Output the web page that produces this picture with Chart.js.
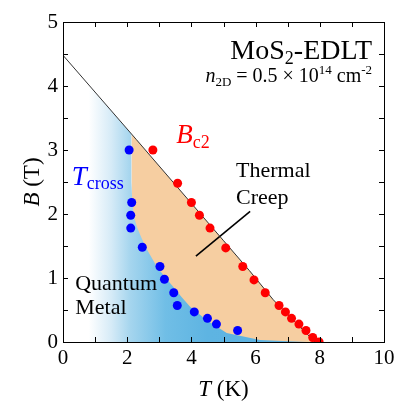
<!DOCTYPE html>
<html>
<head>
<meta charset="utf-8">
<script src="https://cdn.jsdelivr.net/npm/chart.js@4.4.1/dist/chart.umd.min.js"></script>
<style>
    html, body { margin: 0; padding: 0; background: #fff; }
    #wrap { width: 398px; height: 401px; }
</style>
</head>
<body>
<div id="wrap"><canvas id="phaseChart" width="398" height="401"></canvas></div>
<script>
// ==================== Data ====================
// Bc2 points (red)
const bc2T = [2.8, 3.57, 4.0, 4.25, 4.58, 5.07, 5.6, 5.95, 6.3, 6.73, 6.93, 7.12, 7.35, 7.57, 7.78, 7.98];
const bc2B = [3.0, 2.48, 2.18, 1.98, 1.78, 1.47, 1.18, 0.97, 0.77, 0.57, 0.47, 0.37, 0.28, 0.18, 0.07, 0.0];

// Tcross points (blue)
const crossT = [2.06, 2.14, 2.11, 2.11, 2.47, 3.02, 3.16, 3.45, 3.56, 4.09, 4.5, 4.78, 5.44];
const crossB = [3.0, 2.18, 1.98, 1.78, 1.48, 1.18, 0.98, 0.77, 0.57, 0.47, 0.37, 0.28, 0.18];

// thin black guide line (upper Bc2 line)
const lineT = [0, 2.29, 3.64, 4.99, 5.8, 6.55, 7.2, 7.85];
const lineB = [4.48, 3.16, 2.375, 1.59, 1.12, 0.66, 0.33, 0];

// thermal creep region (orange), top edge
const creepT = [2.13, 2.29, 3.64, 4.99, 5.8, 6.55, 7.2, 7.85];
const creepB = [3.25, 3.16, 2.375, 1.59, 1.12, 0.66, 0.33, 0];

// quantum metal region (blue), top edge
const metalT = [0, 2.13, 2.13, 2.16, 2.2, 2.3, 2.45, 2.62, 2.92, 3.2, 3.44, 3.7, 3.96, 4.48, 5.1, 6.14, 7.0, 7.6];
const metalB = [4.48, 3.25, 2.5, 2.2, 1.98, 1.8, 1.62, 1.44, 1.18, 1.0, 0.86, 0.7, 0.55, 0.34, 0.14, 0.03, 0.01, 0];

// pointer from "Thermal Creep" label
const pointerT = [4.14, 5.83];
const pointerB = [1.34, 2.04];

// axes
const xTicks = [0, 2, 4, 6, 8, 10];
const yTicks = [0, 1, 2, 3, 4, 5];

const SERIF = '"Liberation Serif", "Times New Roman", "DejaVu Serif", serif';

function toXY(xs, ys) {
    return xs.map((x, i) => ({ x, y: ys[i] }));
}

function font(size, italic) {
    return (italic ? 'italic ' : '') + size + 'px ' + SERIF;
}

// draw a run of text pieces (sub/superscripts) starting at x, baseline y
function drawRuns(ctx, runs, x, y, align, color) {
    let total = 0;
    runs.forEach(r => {
        ctx.font = font(r.size, r.italic);
        r.w = ctx.measureText(r.text).width;
        total += r.w;
    });
    let cx = align === 'right' ? x - total : (align === 'center' ? x - total / 2 : x);
    ctx.fillStyle = color || '#000';
    ctx.textAlign = 'left';
    ctx.textBaseline = 'alphabetic';
    runs.forEach(r => {
        ctx.font = font(r.size, r.italic);
        ctx.fillText(r.text, cx, y + (r.dy || 0));
        cx += r.w;
    });
}

const framePlugin = {
    id: 'frame',
    afterDraw(chart) {
        const { ctx, chartArea: a, scales } = chart;
        const xs = scales.x, ys = scales.y;
        ctx.save();

        // frame
        ctx.strokeStyle = '#000';
        ctx.lineWidth = 1;
        ctx.strokeRect(Math.round(a.left) + 0.5, Math.round(a.top) + 0.5,
            Math.round(a.right - a.left), Math.round(a.bottom - a.top));

        // inward ticks on all four sides
        const tl = 5;
        ctx.beginPath();
        xs.ticks.forEach(t => {
            const px = Math.round(xs.getPixelForValue(t.value)) + 0.5;
            ctx.moveTo(px, a.bottom); ctx.lineTo(px, a.bottom - tl);
            ctx.moveTo(px, a.top); ctx.lineTo(px, a.top + tl);
        });
        ys.ticks.forEach(t => {
            const py = Math.round(ys.getPixelForValue(t.value)) + 0.5;
            ctx.moveTo(a.left, py); ctx.lineTo(a.left + tl, py);
            ctx.moveTo(a.right, py); ctx.lineTo(a.right - tl, py);
        });
        ctx.stroke();

        // tick labels
        ctx.fillStyle = '#000';
        ctx.font = font(21, false);
        ctx.textAlign = 'center';
        ctx.textBaseline = 'top';
        xTicks.forEach(v => ctx.fillText(String(v), xs.getPixelForValue(v), a.bottom + 6));
        ctx.textAlign = 'right';
        ctx.textBaseline = 'middle';
        yTicks.forEach(v => ctx.fillText(String(v), a.left - 5, ys.getPixelForValue(v)));

        // axis titles
        drawRuns(ctx, [
            { text: 'T', size: 23, italic: true },
            { text: ' (K)', size: 23 }
        ], (a.left + a.right) / 2, 396, 'center');
        ctx.save();
        ctx.translate(39, (a.top + a.bottom) / 2);
        ctx.rotate(-Math.PI / 2);
        drawRuns(ctx, [
            { text: 'B', size: 23, italic: true },
            { text: ' (T)', size: 23 }
        ], 0, 0, 'center');
        ctx.restore();

        // annotations, placed in data units
        const P = (t, b) => [xs.getPixelForValue(t), ys.getPixelForValue(b)];
        let p;
        p = P(9.63, 4.42);
        drawRuns(ctx, [
            { text: 'MoS', size: 28 },
            { text: '2', size: 18, dy: 5 },
            { text: '-EDLT', size: 28 }
        ], p[0], p[1], 'right');
        p = P(9.63, 4.06);
        drawRuns(ctx, [
            { text: 'n', size: 20, italic: true },
            { text: '2D', size: 13, dy: 4 },
            { text: ' = 0.5 \u00d7 10', size: 20 },
            { text: '14', size: 13, dy: -8 },
            { text: ' cm', size: 20 },
            { text: '-2', size: 13, dy: -8 }
        ], p[0], p[1], 'right');
        p = P(3.53, 3.11);
        drawRuns(ctx, [
            { text: 'B', size: 27, italic: true },
            { text: 'c2', size: 18, dy: 5 }
        ], p[0], p[1], 'left', '#ff0000');
        p = P(0.27, 2.45);
        drawRuns(ctx, [
            { text: 'T', size: 27, italic: true },
            { text: 'cross', size: 18, dy: 4 }
        ], p[0], p[1], 'left', '#0000ff');
        p = P(5.39, 2.58);
        drawRuns(ctx, [{ text: 'Thermal', size: 22 }], p[0], p[1], 'left');
        p = P(5.39, 2.15);
        drawRuns(ctx, [{ text: 'Creep', size: 22 }], p[0], p[1], 'left');
        p = P(0.38, 0.81);
        drawRuns(ctx, [{ text: 'Quantum', size: 22 }], p[0], p[1], 'left');
        p = P(0.38, 0.43);
        drawRuns(ctx, [{ text: 'Metal', size: 22 }], p[0], p[1], 'left');

        ctx.restore();
    }
};

function metalGradient(context) {
    const chart = context.chart;
    const { ctx, chartArea } = chart;
    if (!chartArea) return 'rgba(95,180,226,1)';
    const xs = chart.scales.x;
    const x0 = xs.getPixelForValue(0);
    const x1 = xs.getPixelForValue(10);
    const g = ctx.createLinearGradient(x0, 0, x1, 0);
    g.addColorStop(0.0, 'rgba(255,255,255,1)');
    g.addColorStop(0.08, 'rgba(255,255,255,1)');
    g.addColorStop(0.15, 'rgb(214,235,247)');
    g.addColorStop(0.21, 'rgb(165,213,238)');
    g.addColorStop(0.32, 'rgb(112,190,230)');
    g.addColorStop(0.45, 'rgb(94,180,226)');
    g.addColorStop(1.0, 'rgb(90,176,224)');
    return g;
}

new Chart(document.getElementById('phaseChart'), {
    type: 'scatter',
    data: {
        datasets: [
            {
                label: 'Bc2',
                data: toXY(bc2T, bc2B),
                backgroundColor: '#ff0000',
                borderColor: '#ff0000',
                pointRadius: 4.5,
                borderWidth: 0,
                order: 1
            },
            {
                label: 'Tcross',
                data: toXY(crossT, crossB),
                backgroundColor: '#0000ff',
                borderColor: '#0000ff',
                pointRadius: 4.5,
                borderWidth: 0,
                order: 1
            },
            {
                label: 'line',
                data: toXY(lineT, lineB),
                showLine: true,
                borderColor: '#333',
                borderWidth: 1,
                pointRadius: 0,
                order: 2
            },
            {
                label: 'pointer',
                data: toXY(pointerT, pointerB),
                showLine: true,
                borderColor: '#000',
                borderWidth: 1.6,
                pointRadius: 0,
                order: 2
            },
            {
                label: 'metal',
                data: toXY(metalT, metalB),
                showLine: true,
                fill: 'origin',
                backgroundColor: metalGradient,
                borderWidth: 0,
                borderColor: 'rgba(0,0,0,0)',
                pointRadius: 0,
                order: 3
            },
            {
                label: 'creep',
                data: toXY(creepT, creepB),
                showLine: true,
                fill: 'origin',
                backgroundColor: '#f6cea1',
                borderWidth: 0,
                borderColor: 'rgba(0,0,0,0)',
                pointRadius: 0,
                order: 4
            }
        ]
    },
    options: {
        responsive: false,
        animation: false,
        events: [],
        layout: { padding: { left: 0, top: 22, right: 14, bottom: 0 } },
        scales: {
            x: {
                type: 'linear',
                min: 0,
                max: 10,
                ticks: { stepSize: 1, display: false },
                grid: { display: false },
                border: { display: false },
                afterFit: s => { s.height = 59; }
            },
            y: {
                type: 'linear',
                min: 0,
                max: 5,
                ticks: { stepSize: 0.5, display: false },
                grid: { display: false },
                border: { display: false },
                afterFit: s => { s.width = 63; }
            }
        },
        plugins: {
            legend: { display: false },
            tooltip: { enabled: false }
        }
    },
    plugins: [framePlugin]
});
</script>
</body>
</html>
